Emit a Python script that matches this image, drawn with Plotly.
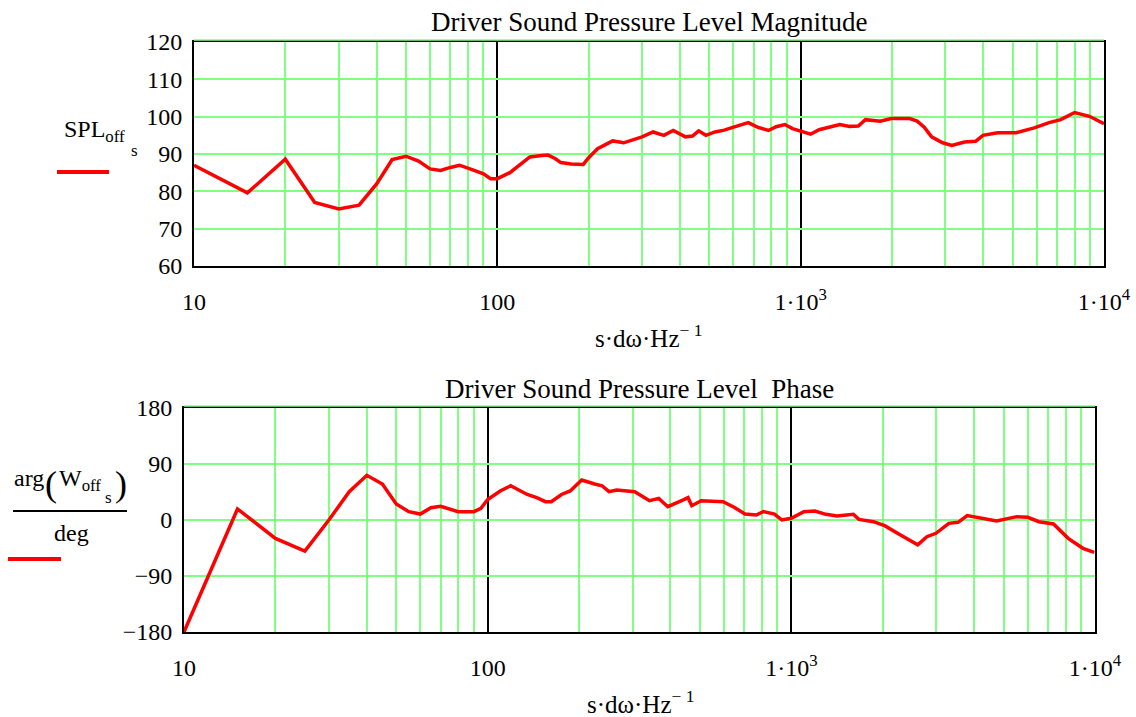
import plotly.graph_objects as go

W, H = 1136, 717
FONT = "Liberation Serif"
GREEN = "#80FF80"
RED = "#FF0000"

# ---- data ----
spl_freq = [10, 15, 20, 25, 30, 35, 40, 45, 50, 55, 60, 65, 70, 75, 80, 90, 95, 100,
            110, 120, 128, 140, 147, 155, 162, 175, 192, 200, 214, 240, 261, 300, 326,
            354, 380, 417, 440, 461, 487, 522, 560, 601, 640, 672, 720, 783, 830, 887,
            940, 1000, 1078, 1150, 1240, 1346, 1450, 1548, 1636, 1830, 1990, 2287, 2420,
            2555, 2702, 2938, 3148, 3469, 3773, 3990, 4457, 5126, 5890, 6589, 7200, 8002,
            8953, 10000]
spl_db = [87.0, 79.6, 88.6, 77.0, 75.3, 76.3, 82.0, 88.5, 89.4, 88.1, 86.0, 85.6, 86.4,
          87.0, 86.2, 84.7, 83.4, 83.4, 85.0, 87.5, 89.2, 89.6, 89.7, 88.8, 87.7, 87.3,
          87.2, 89.0, 91.4, 93.5, 93.0, 94.6, 95.9, 95.0, 96.3, 94.6, 94.8, 96.2, 95.0,
          95.9, 96.4, 97.2, 97.9, 98.4, 97.2, 96.3, 97.3, 97.9, 96.8, 96.1, 95.3, 96.5,
          97.2, 97.9, 97.4, 97.5, 99.2, 98.8, 99.5, 99.5, 98.8, 97.2, 94.6, 93.0, 92.3,
          93.2, 93.4, 95.0, 95.7, 95.7, 97.0, 98.4, 99.2, 101.1, 100.1, 98.1]

ph_freq = [10, 15, 20, 25, 30, 35, 40, 45, 50, 55, 60, 65, 70, 80, 90, 95, 100, 110, 119,
           135, 145, 155, 162, 175, 187, 204, 225, 238, 251, 266, 305, 341, 366, 392,
           439, 457, 470, 505, 596, 648, 704, 766, 809, 880, 931, 1000, 1099, 1195, 1299,
           1413, 1601, 1668, 1865, 2029, 2266, 2607, 2795, 2994, 3301, 3541, 3795, 4302,
           4745, 5525, 6008, 6533, 7298, 8160, 9127, 9940]
ph_deg = [-180, 17.7, -29.5, -50, 0, 45.5, 71.8, 57.8, 25.7, 13.4, 9.6, 19.8, 22, 13.4,
          13.4, 18.7, 33, 46.6, 55, 41, 36, 29.5, 29.5, 41, 46.6, 64.3, 57.8, 55, 45.5,
          48.2, 45.5, 31, 34.8, 21.4, 32, 35.9, 23, 31, 29.5, 20.4, 9.6, 8, 13.4, 9.6, 0,
          2.7, 13.4, 14.5, 9.1, 6.4, 9.1, 1, -2.7, -9.1, -23, -40, -26.8, -21.4, -5.4,
          -3.7, 7, 2.7, -1.6, 5.4, 4.3, -2.7, -6.4, -29.5, -45.5, -52]

decade_vals = [10, 100, 1000, 10000]
minor_vals = [m * 10 ** d for d in (1, 2, 3) for m in range(2, 10)]
x_labels = ["10", "100", "1·10<sup>3</sup>", "1·10<sup>4</sup>"]
spl_ticks = [60, 70, 80, 90, 100, 110, 120]
ph_ticks = [-180, -90, 0, 90, 180]
ph_tick_text = ["−180", "−90", "0", "90", "180"]

top_title = "Driver Sound Pressure Level Magnitude"
bot_title = "Driver Sound Pressure Level  Phase"
x_title = "s·dω·Hz<sup>− 1</sup>"


def px(x):
    return x / W


def py(y):
    return 1 - y / H


fig = go.Figure()
fig.add_trace(go.Scatter(x=spl_freq, y=spl_db, mode="lines",
                         line=dict(color=RED, width=3.5), xaxis="x", yaxis="y",
                         showlegend=False))
fig.add_trace(go.Scatter(x=ph_freq, y=ph_deg, mode="lines",
                         line=dict(color=RED, width=3.5), xaxis="x2", yaxis="y2",
                         showlegend=False))

tickfont = dict(family=FONT, size=24, color="black")
common_x = dict(type="log", range=[1, 4], tickmode="array", tickvals=decade_vals,
                ticktext=x_labels, automargin=False,
                showgrid=True, gridcolor="black", gridwidth=2, zeroline=False,
                minor=dict(tickmode="array", tickvals=minor_vals, showgrid=True,
                           gridcolor=GREEN, gridwidth=1.5, ticks=""),
                showline=True, linecolor="black", linewidth=2, mirror=True,
                ticks="", tickfont=tickfont, ticklabelstandoff=13)
common_y = dict(showgrid=True, gridcolor=GREEN, gridwidth=1.5, zeroline=False,
                automargin=False,
                showline=True, linecolor="black", linewidth=2, mirror=True,
                ticks="", tickfont=tickfont, ticklabelstandoff=5)

fig.update_layout(
    width=W, height=H, margin=dict(l=0, r=0, t=0, b=0, autoexpand=False),
    paper_bgcolor="white", plot_bgcolor="white",
    xaxis=dict(common_x, domain=[px(194), px(1104)], anchor="y"),
    yaxis=dict(common_y, domain=[py(266), py(42)], anchor="x", range=[60, 120],
               tickmode="array", tickvals=spl_ticks),
    xaxis2=dict(common_x, domain=[px(184), px(1095)], anchor="y2"),
    yaxis2=dict(common_y, domain=[py(632), py(408)], anchor="x2", range=[-180, 180],
                tickmode="array", tickvals=ph_ticks, ticktext=ph_tick_text),
)

shapes = [
    # thin green line just above each plot's top border
    dict(type="line", xref="paper", yref="paper", x0=px(194), x1=px(1104),
         y0=py(40), y1=py(40), line=dict(color=GREEN, width=1.5)),
    dict(type="line", xref="paper", yref="paper", x0=px(184), x1=px(1095),
         y0=py(406), y1=py(406), line=dict(color=GREEN, width=1.5)),
    # legend samples
    dict(type="line", xref="paper", yref="paper", x0=px(57), x1=px(109),
         y0=py(172), y1=py(172), line=dict(color=RED, width=4)),
    dict(type="line", xref="paper", yref="paper", x0=px(8), x1=px(61),
         y0=py(559), y1=py(559), line=dict(color=RED, width=4)),
    # fraction bar
    dict(type="line", xref="paper", yref="paper", x0=px(13), x1=px(127),
         y0=py(511), y1=py(511), line=dict(color="black", width=2)),
]
fig.update_layout(shapes=shapes)


def ann(text, x, y, size=23, xanchor="center", yanchor="middle"):
    return dict(text=text, x=px(x), y=py(y), xref="paper", yref="paper",
                showarrow=False, xanchor=xanchor, yanchor=yanchor,
                font=dict(family=FONT, size=size, color="black"))


anns = [
    ann(top_title, 649, 22, size=27),
    ann(bot_title, 639, 389, size=27),
    ann(x_title, 649, 336, size=25),
    ann(x_title, 641, 702, size=25),
    ann("SPL<sub>off</sub>", 62, 131, size=24, xanchor="left"),
    ann("s", 134, 150, size=17),
    ann("arg", 29, 478, size=24),
    ann("(", 51, 484, size=36),
    ann("W<sub>off</sub>", 57, 480, size=24, xanchor="left"),
    ann("s", 108, 497, size=17),
    ann(")", 121, 484, size=36),
    ann("deg", 71, 533, size=24),
]
fig.update_layout(annotations=anns)

fig.write_html("out.html")
